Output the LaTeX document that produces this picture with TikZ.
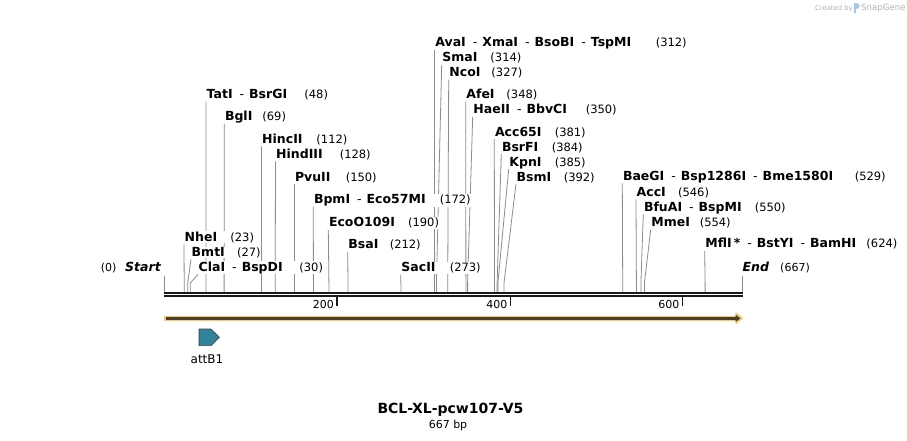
\documentclass[tikz,border=0pt]{standalone}
\usepackage{fontspec}
\setmainfont{DejaVu Sans}
\usetikzlibrary{arrows.meta}
\pgfdeclarelayer{bg}
\pgfdeclarelayer{paper}
\pgfsetlayers{paper,bg,main}

\definecolor{sitegray}{RGB}{140,140,140}
\definecolor{bandorange}{RGB}{249,200,112}
\definecolor{banddark}{RGB}{72,62,48}
\definecolor{attteal}{RGB}{49,130,155}
\definecolor{logogray}{RGB}{178,178,178}
\definecolor{logoblue}{RGB}{165,200,228}

\tikzset{
  lbl/.style={fill=white, inner xsep=0.5pt, inner ysep=0.5pt, anchor=base west,
              font=\fontsize{12.5}{14}\selectfont, text=black},
  plain/.style={inner sep=0pt, font=\fontsize{11}{13}\selectfont, text=black},
  siteline/.style={draw=sitegray, line width=0.8pt},
  backbone/.style={draw=black!90, line width=2.3pt},
  tickline/.style={draw=black!90, line width=1.4pt},
}
\newcommand{\nm}[1]{\textbf{#1}}
\newcommand{\numtxt}[1]{{\fontsize{11.5}{13}\selectfont #1}}
\newcommand{\sepd}{\hspace{7pt}-\hspace{5pt}}

% id, label x, label centre y, right x, names, number, site x
\newcommand{\enz}[7]{%
  \pgfmathsetlengthmacro{\enzw}{(#4)-(#2)}%
  \node[lbl] (#1) at (#2,#3+4.3) {\hbox to \enzw{#5\hfill\numtxt{#6}}};
  \coordinate (#1-b) at (#7,283);
  \coordinate (#1-s) at (#7,292);
  \begin{pgfonlayer}{bg}
    \draw[siteline] ([yshift=-3pt]#1.base west) -- (#1-b) -- (#1-s);
  \end{pgfonlayer}
}

\begin{document}
\begin{tikzpicture}[x=1pt,y=-1pt]
\useasboundingbox (0,0) rectangle (907,441);
\begin{pgfonlayer}{paper}
\fill[white] (0,0) rectangle (907,441);
\end{pgfonlayer}

% logo
\node[anchor=base west, inner sep=0pt, text=logogray, font=\fontsize{6.8}{8}\selectfont] (createdby) at (815,10.3) {Created by};
\fill[logoblue] (854.3,13.5) rectangle (856.3,3);
\fill[logoblue] (856.3,3) .. controls (861,3) and (861,9.5) .. (856.3,9.5) -- cycle;
\node[anchor=base west, inner sep=0pt, text=logogray, font=\fontsize{8.6}{10}\selectfont] (snapgene) at (861,10.6) {SnapGene};

% backbone
\coordinate (bbL1) at (164,292.8);
\coordinate (bbR1) at (742.6,292.8);
\coordinate (bbL2) at (164,296.3);
\coordinate (bbR2) at (742.6,296.3);
\draw[backbone] (bbL1) -- (bbR1);
\draw[backbone] (bbL2) -- (bbR2);

% ticks
\foreach \tx/\tl in {337/200, 510.5/400, 682.5/600}{
  \coordinate (tk\tl a) at (\tx,297);
  \coordinate (tk\tl b) at (\tx,305.5);
  \draw[tickline] (tk\tl a) -- (tk\tl b);
  \node[plain, anchor=base east] (tl\tl) at (\tx-3,308.5) {\tl};
}

% start / end
\node[plain, anchor=base east] (startnum) at (116.7,271.3) {(0)};
\node[plain, anchor=base west, font=\fontsize{12.5}{14}\selectfont] (start) at (125,271.3) {\textbf{\textit{Start}}};
\coordinate (startTop) at (164.3,276);
\coordinate (startBot) at (164.3,292);
\draw[siteline] (startTop) -- (startBot);
\node[plain, anchor=base west, font=\fontsize{12.5}{14}\selectfont] (endlbl) at (742.5,271.3) {\textbf{\textit{End}}};
\node[plain, anchor=base east] (endnum) at (810,271.3) {(667)};
\coordinate (endTop) at (742.3,276);
\coordinate (endBot) at (742.3,292);
\draw[siteline] (endTop) -- (endBot);

% enzymes
\enz{nhe}{184}{237}{253.3}{\nm{NheI}}{(23)}{184.2}
\enz{bmt}{191}{252}{260}{\nm{BmtI}}{(27)}{187.7}
\enz{cla}{198}{267}{322.3}{\nm{ClaI}\sepd\nm{BspDI}}{(30)}{190.3}
\enz{tat}{206}{94}{327.3}{\nm{TatI}\sepd\nm{BsrGI}}{(48)}{205.9}
\enz{bgl}{224.3}{116.5}{285.3}{\nm{BglI}}{(69)}{224.1}
\enz{hinc}{261.5}{139}{346.7}{\nm{HincII}}{(112)}{261.4}
\enz{hind}{275.5}{154}{370}{\nm{HindIII}}{(128)}{275.2}
\enz{pvu}{294.3}{177}{376}{\nm{PvuII}}{(150)}{294.3}
\enz{bpm}{313.3}{199.3}{470}{\nm{BpmI}\sepd\nm{Eco57MI}}{(172)}{313.4}
\enz{ecoo}{328.3}{222.3}{438.3}{\nm{EcoO109I}}{(190)}{328.9}
\enz{bsa}{347.7}{244.3}{420}{\nm{BsaI}}{(212)}{348.0}
\enz{sac}{400.7}{267.3}{480}{\nm{SacII}}{(273)}{400.9}
\enz{ava}{434.7}{42.3}{686}{\nm{AvaI}\sepd\nm{XmaI}\sepd\nm{BsoBI}\sepd\nm{TspMI}}{(312)}{434.7}
\enz{sma}{441.7}{57.3}{520.7}{\nm{SmaI}}{(314)}{436.4}
\enz{nco}{448.7}{72.3}{521.7}{\nm{NcoI}}{(327)}{447.7}
\enz{afe}{465.7}{94}{536.7}{\nm{AfeI}}{(348)}{465.9}
\enz{hae}{472.7}{109.3}{616}{\nm{HaeII}\sepd\nm{BbvCI}}{(350)}{467.6}
\enz{acc}{494.3}{131.7}{585}{\nm{Acc65I}}{(381)}{494.5}
\enz{bsrf}{501.3}{146.7}{582}{\nm{BsrFI}}{(384)}{497.1}
\enz{kpn}{508.7}{161.7}{585}{\nm{KpnI}}{(385)}{497.9}
\enz{bsm}{516}{176.7}{594}{\nm{BsmI}}{(392)}{504.0}
\enz{bae}{622.3}{176}{885}{\nm{BaeGI}\sepd\nm{Bsp1286I}\sepd\nm{Bme1580I}}{(529)}{622.7}
\enz{acci}{636}{192.3}{708.3}{\nm{AccI}}{(546)}{636.4}
\enz{bfu}{643.3}{206.7}{785}{\nm{BfuAI}\sepd\nm{BspMI}}{(550)}{640.9}
\enz{mme}{650.7}{222.3}{730}{\nm{MmeI}}{(554)}{644.4}
\enz{mfl}{704.7}{243.5}{896.7}{\nm{MflI}\,\nm{*}\sepd\nm{BstYI}\sepd\nm{BamHI}}{(624)}{705.1}

% orange arrow
\coordinate (oa0) at (164,318.3);
\coordinate (oa1) at (743.5,318.3);
\coordinate (da0) at (165.5,318.3);
\coordinate (da1) at (740.5,318.3);
\draw[bandorange, line width=5.5pt, -{Triangle[length=8pt,width=12pt]}] (oa0) -- (oa1);
\draw[banddark, line width=2.4pt, -{Triangle[length=5pt,width=7pt]}] (da0) -- (da1);

% attB1 feature
\filldraw[fill=attteal, draw=black!75, line width=0.6pt]
  (199,329) -- (211,329) -- (219.5,337.3) -- (211,345.6) -- (199,345.6) -- cycle;
\node[plain, font=\fontsize{12}{14}\selectfont] (attb1) at (207,359) {attB1};

% title
\node[plain, font=\fontsize{14}{16}\selectfont\bfseries] (title) at (450.5,410) {BCL-XL-pcw107-V5};
\node[plain] (bp) at (448,425) {667 bp};
\end{tikzpicture}
\end{document}
